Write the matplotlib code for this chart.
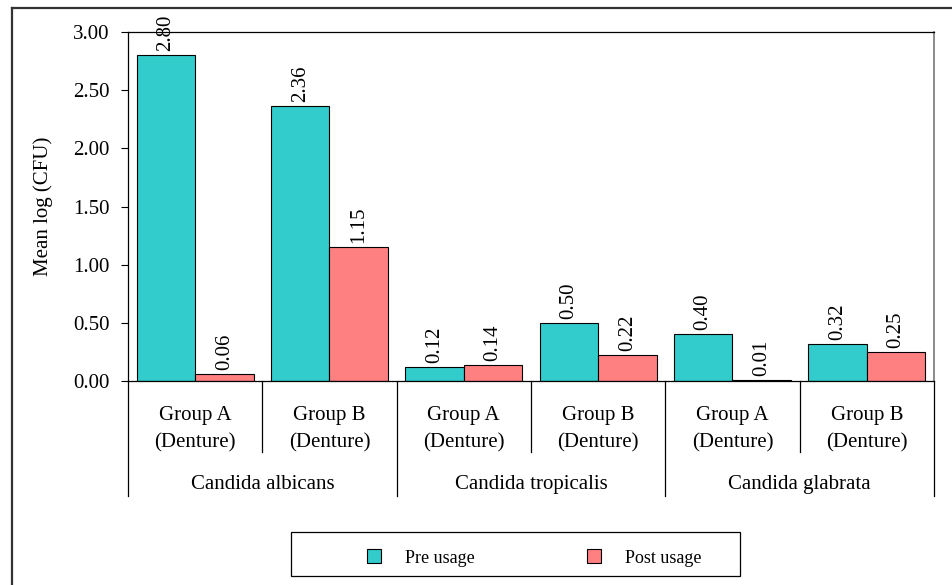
import matplotlib
matplotlib.use("Agg")
import matplotlib.pyplot as plt
import numpy as np
from matplotlib.lines import Line2D
from matplotlib.patches import Patch, Rectangle

plt.rcParams['font.family'] = ['Liberation Serif', 'DejaVu Serif']

species = ["Candida albicans", "Candida tropicalis", "Candida glabrata"]
groups = ["Group A\n(Denture)", "Group B\n(Denture)"]
pre_usage = [2.80, 2.36, 0.12, 0.50, 0.40, 0.32]
post_usage = [0.06, 1.15, 0.14, 0.22, 0.01, 0.25]
series_names = ["Pre usage", "Post usage"]
yticks = [0.0, 0.5, 1.0, 1.5, 2.0, 2.5, 3.0]

pre_color = "#33CCCC"
post_color = "#FF8080"

fig = plt.figure(figsize=(9.53, 5.85), dpi=100)
ax = fig.add_axes([0.1343, 0.3487, 0.8457, 0.5966])

x = np.arange(len(pre_usage))
w = 0.435
b1 = ax.bar(x - w / 2, pre_usage, w, color=pre_color, edgecolor="black", linewidth=0.8)
b2 = ax.bar(x + w / 2, post_usage, w, color=post_color, edgecolor="black", linewidth=0.8)

for bars, vals in ((b1, pre_usage), (b2, post_usage)):
    for r, v in zip(bars, vals):
        ax.annotate(f"{v:.2f}", (r.get_x() + r.get_width() / 2, v),
                    xytext=(0, 3), textcoords="offset points",
                    rotation=90, ha="center", va="bottom", fontsize=15,
                    annotation_clip=False)

ax.set_xlim(-0.5, 5.5)
ax.set_ylim(0, 3.0)
ax.set_yticks(yticks)
ax.set_yticklabels([f"{t:.2f}" for t in yticks], fontsize=15)
ax.tick_params(axis="y", direction="out", length=5, width=0.8, pad=8)
ax.set_xticks([])
ax.set_ylabel("Mean log (CFU)", fontsize=15)
ax.yaxis.set_label_coords(-0.093, 0.5)

for s in ("left", "bottom", "top"):
    ax.spines[s].set_color("black")
    ax.spines[s].set_linewidth(0.9)
ax.spines["right"].set_color("#777777")
ax.spines["right"].set_linewidth(1.2)

# two-level category axis below the plot
tr = ax.get_xaxis_transform()
for k in range(len(pre_usage) + 1):
    xb = k - 0.5
    y_end = -0.330 if k % 2 == 0 else -0.203
    ax.add_line(Line2D([xb, xb], [0, y_end], transform=tr, color="black",
                       linewidth=0.9, clip_on=False))
for i in range(len(pre_usage)):
    lines = groups[i % 2].split("\n")
    ax.text(i, -0.100, lines[0], transform=tr, ha="center", va="center", fontsize=15)
    ax.text(i, -0.176, lines[1], transform=tr, ha="center", va="center", fontsize=15)
for j, name in enumerate(species):
    ax.text(2 * j + 0.5, -0.297, name, transform=tr, ha="center", va="center", fontsize=15)

# legend box, entries placed inside it
fig.add_artist(Rectangle((291 / 953, 1 - 576 / 585), 449 / 953, 44 / 585,
                         transform=fig.transFigure, facecolor="white",
                         edgecolor="black", linewidth=0.9))
handles = [Patch(facecolor=pre_color, edgecolor="black", linewidth=0.8),
           Patch(facecolor=post_color, edgecolor="black", linewidth=0.8)]
fig.legend(handles, series_names, loc="center", ncol=2,
           bbox_to_anchor=(534 / 953, 1 - 558 / 585),
           frameon=False, fontsize=13, handlelength=0.8, handleheight=0.8,
           handletextpad=1.3, columnspacing=6.2, borderaxespad=0)

# outer chart frame
fig.add_artist(Line2D([12 / 953, 12 / 953], [0, 1 - 8 / 585], transform=fig.transFigure,
                      color="#333333", linewidth=1.6))
fig.add_artist(Line2D([12 / 953, 1], [1 - 8 / 585, 1 - 8 / 585], transform=fig.transFigure,
                      color="#333333", linewidth=1.6))

fig.savefig("out.png", dpi=100)
